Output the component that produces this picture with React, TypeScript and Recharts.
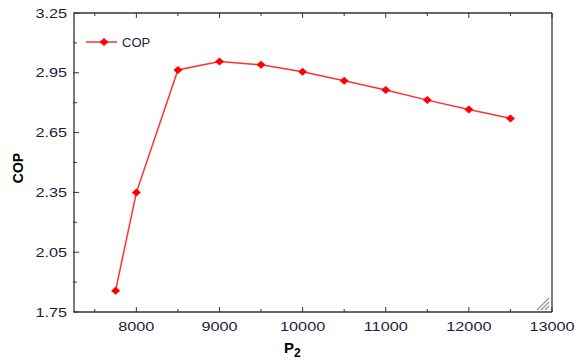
import { LineChart, Line, XAxis, YAxis } from 'recharts';

const P2 = [7750, 8000, 8500, 9000, 9500, 10000, 10500, 11000, 11500, 12000, 12500];
const COP = [1.857, 2.349, 2.964, 3.007, 2.99, 2.955, 2.91, 2.864, 2.813, 2.766, 2.721];

const X_TICKS = [7500, 8000, 8500, 9000, 9500, 10000, 10500, 11000, 11500, 12000, 12500, 13000];
const X_LABELS = [8000, 9000, 10000, 11000, 12000, 13000];
const Y_TICKS = [1.75, 1.9, 2.05, 2.2, 2.35, 2.5, 2.65, 2.8, 2.95, 3.1, 3.25];
const Y_LABELS = [1.75, 2.05, 2.35, 2.65, 2.95, 3.25];

const data = P2.map((p, i) => ({ p2: p, cop: COP[i] }));

const FONT = "'Liberation Sans', Arial, sans-serif";
const TEXT = '#1c1c3c';
const AXIS = '#333333';
const RED = '#ff0000';
const MAJOR = 5;
const MINOR = 3;

const isLabel = (list: number[], v: number) => list.some((l) => Math.abs(l - v) < 1e-6);

function BottomTick({ x, y, payload }: any) {
  const major = isLabel(X_LABELS, payload.value);
  return (
    <g>
      <line x1={x} x2={x} y1={y} y2={y - (major ? MAJOR : MINOR)} stroke={AXIS} strokeWidth={1} />
      {major && (
        <text
          transform={`translate(${x},${y + 19}) scale(1.25,1)`}
          textAnchor="middle"
          fontFamily={FONT}
          fontSize={13}
          fill={TEXT}
        >
          {payload.value}
        </text>
      )}
    </g>
  );
}

function TopTick({ x, y, payload }: any) {
  const major = isLabel(X_LABELS, payload.value);
  return <line x1={x} x2={x} y1={y} y2={y + (major ? MAJOR : MINOR)} stroke={AXIS} strokeWidth={1} />;
}

function LeftTick({ x, y, payload }: any) {
  const major = isLabel(Y_LABELS, payload.value);
  return (
    <g>
      <line x1={x - 1} x2={x + (major ? MAJOR : MINOR)} y1={y} y2={y} stroke={AXIS} strokeWidth={1} />
      {major && (
        <text
          transform={`translate(${x - 7},${y + 4.5}) scale(1.25,1)`}
          textAnchor="end"
          fontFamily={FONT}
          fontSize={13}
          fill={TEXT}
        >
          {payload.value.toFixed(2)}
        </text>
      )}
    </g>
  );
}

function RightTick({ x, y, payload }: any) {
  const major = isLabel(Y_LABELS, payload.value);
  return <line x1={x} x2={x - (major ? MAJOR : MINOR)} y1={y} y2={y} stroke={AXIS} strokeWidth={1} />;
}

function Diamond({ cx, cy, index }: any) {
  return (
    <polygon
      key={`d-${index}`}
      points={`${cx},${cy - 4} ${cx + 4.5},${cy} ${cx},${cy + 4} ${cx - 4.5},${cy}`}
      fill={RED}
    />
  );
}

export default function App() {
  return (
    <div style={{ position: 'absolute', left: 0, top: 0, width: 577, height: 363, background: '#fff' }}>
      <LineChart
        width={577}
        height={363}
        data={data}
        margin={{ top: 8, right: 20, bottom: 11, left: 14 }}
      >
        <XAxis
          xAxisId="b"
          dataKey="p2"
          type="number"
          domain={[7250, 13000]}
          ticks={X_TICKS}
          interval={0}
          height={40}
          tickSize={0}
          tickMargin={0}
          tickLine={false}
          axisLine={{ stroke: AXIS, strokeWidth: 1.3 }}
          tick={<BottomTick />}
        />
        <XAxis
          xAxisId="t"
          orientation="top"
          dataKey="p2"
          type="number"
          domain={[7250, 13000]}
          ticks={X_TICKS}
          interval={0}
          height={5}
          tickSize={0}
          tickMargin={0}
          tickLine={false}
          axisLine={{ stroke: AXIS, strokeWidth: 1.3 }}
          tick={<TopTick />}
        />
        <YAxis
          yAxisId="l"
          type="number"
          domain={[1.75, 3.25]}
          ticks={Y_TICKS}
          interval={0}
          width={60}
          tickSize={0}
          tickMargin={0}
          tickLine={false}
          axisLine={{ stroke: AXIS, strokeWidth: 1.3 }}
          tick={<LeftTick />}
        />
        <YAxis
          yAxisId="r"
          orientation="right"
          type="number"
          domain={[1.75, 3.25]}
          ticks={Y_TICKS}
          interval={0}
          width={5}
          tickSize={0}
          tickMargin={0}
          tickLine={false}
          axisLine={{ stroke: AXIS, strokeWidth: 1.3 }}
          tick={<RightTick />}
        />
        <Line
          xAxisId="b"
          yAxisId="l"
          type="linear"
          dataKey="cop"
          stroke="#ff3030"
          strokeWidth={1.5}
          dot={Diamond}
          activeDot={false}
          isAnimationActive={false}
        />
      </LineChart>
      <svg
        width={577}
        height={363}
        style={{ position: 'absolute', left: 0, top: 0, pointerEvents: 'none' }}
      >
        {/* legend */}
        <line x1={86} x2={117} y1={42} y2={42} stroke="#ff3030" strokeWidth={1.5} />
        <polygon points="104,38 108.5,42 104,46 99.5,42" fill={RED} />
        <text x={122} y={46.5} fontFamily={FONT} fontSize={13} fill={TEXT}>
          COP
        </text>
        {/* axis titles */}
        <text
          transform="translate(23,168) rotate(-90)"
          textAnchor="middle"
          fontFamily={FONT}
          fontSize={14}
          fontWeight="bold"
          fill="#000"
        >
          COP
        </text>
        <text x={284} y={353} fontFamily={FONT} fontSize={15} fontWeight="bold" fill="#000">
          P
          <tspan fontSize={12} dy={4}>
            2
          </tspan>
        </text>
        {/* resize grip */}
        <g stroke="#9a9a9a" strokeWidth={1.2}>
          <line x1={537} y1={310} x2={549} y2={298} />
          <line x1={541} y1={310} x2={549} y2={302} />
          <line x1={545} y1={310} x2={549} y2={306} />
        </g>
      </svg>
    </div>
  );
}
